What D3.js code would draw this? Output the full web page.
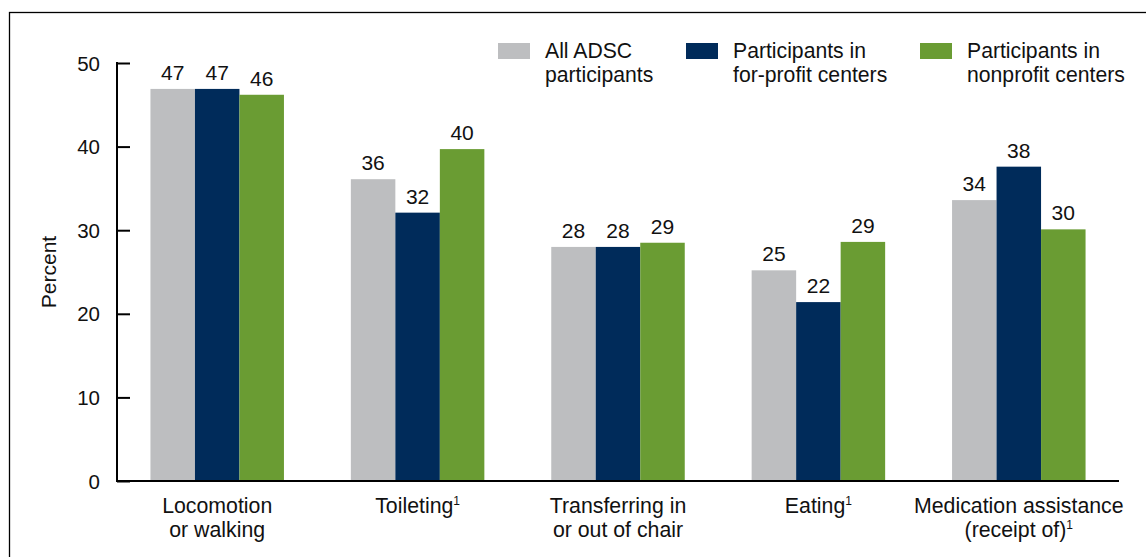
<!DOCTYPE html>
<html>
<head>
<meta charset="utf-8">
<script src="https://d3js.org/d3.v7.min.js"></script>
<style>
  body { margin: 0; background: #fff; }
  svg text { font-family: "Liberation Sans", Arial, sans-serif; fill: #111; }
</style>
</head>
<body>
<svg id="chart" width="1146" height="557"></svg>
<script>
// categories (second line of label, and whether footnote 1 applies)
var categories = ["Locomotion", "Toileting", "Transferring", "Eating", "Medication"];
var catLine1 = ["Locomotion", "Toileting", "Transferring in", "Eating", "Medication assistance"];
var catLine2 = ["or walking", "", "or out of chair", "", "(receipt of)"];
var catNote = [false, true, false, true, true];

var seriesNames = ["all", "forprofit", "nonprofit"];
var legendLine1 = ["All ADSC", "Participants in", "Participants in"];
var legendLine2 = ["participants", "for-profit centers", "nonprofit centers"];
var seriesColors = ["#bdbec0", "#002b5a", "#6a9c33"];

// values in percent (bar heights) and the rounded labels shown
var allADSC   = [46.9, 36.1, 28.0, 25.2, 33.6];
var forProfit = [46.9, 32.1, 28.0, 21.4, 37.6];
var nonProfit = [46.2, 39.7, 28.5, 28.6, 30.1];
var labelsAll = ["47", "36", "28", "25", "34"];
var labelsFor = ["47", "32", "28", "22", "38"];
var labelsNon = ["46", "40", "29", "29", "30"];

var yTicks = [0, 10, 20, 30, 40, 50];

var svg = d3.select("#chart");

// frame
svg.append("rect")
    .attr("x", 9.5).attr("y", 12.5)
    .attr("width", 1200).attr("height", 600)
    .attr("fill", "none").attr("stroke", "#000").attr("stroke-width", 1.3);

var x0 = d3.scaleBand().domain(categories).range([117, 1119]).padding(0);
var groupW = 133.5;
var x1 = d3.scaleBand().domain(seriesNames).range([0, groupW]).padding(0);
var y = d3.scaleLinear().domain([0, 50]).range([481, 63]);

var valueSets = [allADSC, forProfit, nonProfit];
var labelSets = [labelsAll, labelsFor, labelsNon];

var rows = [];
seriesNames.forEach(function (s, si) {
    categories.forEach(function (c, ci) {
        rows.push({cat: c, s: s, si: si, v: valueSets[si][ci], label: labelSets[si][ci]});
    });
});

function barX(d) {
    return x0(d.cat) + (x0.bandwidth() - groupW) / 2 + x1(d.s);
}

svg.append("g").selectAll("rect")
    .data(rows).enter().append("rect")
    .attr("x", barX)
    .attr("y", function (d) { return y(d.v); })
    .attr("width", x1.bandwidth())
    .attr("height", function (d) { return y(0) - y(d.v); })
    .attr("fill", function (d) { return seriesColors[d.si]; });

svg.append("g").selectAll("text")
    .data(rows).enter().append("text")
    .attr("x", function (d) { return barX(d) + x1.bandwidth() / 2; })
    .attr("y", function (d) { return y(d.v) - 9; })
    .attr("text-anchor", "middle")
    .style("font-size", "21px")
    .text(function (d) { return d.label; });

// y axis
var yAxis = d3.axisRight(y).tickValues(yTicks).tickSize(13).tickFormat(d3.format("d"));
var gy = svg.append("g").attr("transform", "translate(117,0)").call(yAxis);
gy.select(".domain").remove();
gy.selectAll(".tick line").attr("stroke", "#000").attr("stroke-width", 2);
gy.selectAll(".tick text")
    .attr("x", -17).attr("dy", "0.35em")
    .attr("text-anchor", "end")
    .style("font-size", "20.5px");
svg.append("line")
    .attr("x1", 117).attr("x2", 117)
    .attr("y1", y(50) - 1).attr("y2", y(0) + 1)
    .attr("stroke", "#000").attr("stroke-width", 2);
svg.append("line")
    .attr("x1", 116).attr("x2", 1119)
    .attr("y1", y(0)).attr("y2", y(0))
    .attr("stroke", "#000").attr("stroke-width", 2);

svg.append("text")
    .attr("transform", "translate(56," + ((y(0) + y(50)) / 2) + ") rotate(-90)")
    .attr("text-anchor", "middle")
    .style("font-size", "21px")
    .text("Percent");

// category labels
var catG = svg.append("g").selectAll("g")
    .data(categories).enter().append("g")
    .attr("transform", function (c) { return "translate(" + (x0(c) + x0.bandwidth() / 2) + ",0)"; });
catG.each(function (c, i) {
    var g = d3.select(this);
    var hasSecond = catLine2[i] !== "";
    var t1 = g.append("text").attr("y", 513).attr("text-anchor", "middle").style("font-size", "21.3px");
    t1.append("tspan").text(catLine1[i]);
    if (catNote[i] && !hasSecond) {
        t1.append("tspan").attr("dy", -8).style("font-size", "12px").text("1");
    }
    if (hasSecond) {
        var t2 = g.append("text").attr("y", 537).attr("text-anchor", "middle").style("font-size", "21.3px");
        t2.append("tspan").text(catLine2[i]);
        if (catNote[i]) {
            t2.append("tspan").attr("dy", -8).style("font-size", "12px").text("1");
        }
    }
});

// legend
var legendX = [498, 686, 920];
var leg = svg.append("g").selectAll("g")
    .data(seriesNames).enter().append("g")
    .attr("transform", function (d, i) { return "translate(" + legendX[i] + ",0)"; });
leg.append("rect")
    .attr("x", 0).attr("y", 43)
    .attr("width", 32).attr("height", 16)
    .attr("fill", function (d, i) { return seriesColors[i]; });
leg.append("text")
    .attr("x", 47).attr("y", 58)
    .style("font-size", "21.2px")
    .text(function (d, i) { return legendLine1[i]; });
leg.append("text")
    .attr("x", 47).attr("y", 82)
    .style("font-size", "21.2px")
    .text(function (d, i) { return legendLine2[i]; });
</script>
</body>
</html>
